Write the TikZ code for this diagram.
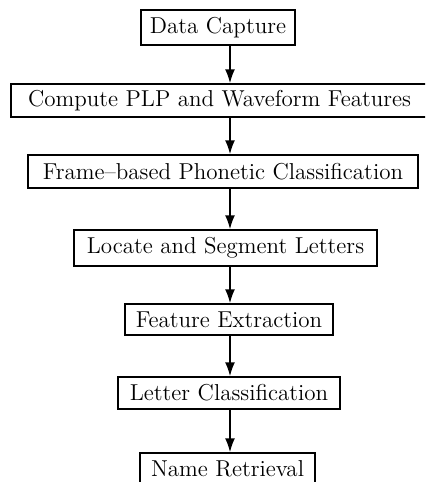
\documentclass[tikz,border=0pt]{standalone}
\usetikzlibrary{arrows.meta}
\begin{document}
\begin{tikzpicture}[x=0.5pt,y=-0.5pt,
  stage/.style={draw, line width=0.75pt, inner sep=0pt, anchor=center,
    font=\fontsize{11.5}{13}\selectfont},
  flow/.style={line width=0.8pt, -{Latex[length=7pt,width=5pt]}}]
\useasboundingbox (0,0) rectangle (425,482);
\clip (0,0) rectangle (425,482);
% processing stages, top to bottom
\node[stage, minimum width=77pt,    minimum height=17.5pt] (s1) at (218,27.5)  {Data Capture};
\node[stage, minimum width=208.5pt, minimum height=16.5pt] (s2) at (219.5,100.5) {Compute PLP and Waveform Features};
\node[stage, minimum width=195pt,   minimum height=16.5pt] (s3) at (223,171.5) {Frame--based Phonetic Classification};
\node[stage, minimum width=151.5pt, minimum height=18pt]   (s4) at (225.5,248) {Locate and Segment Letters};
\node[stage, minimum width=104pt,   minimum height=15.5pt] (s5) at (229,319.5) {Feature Extraction};
\node[stage, minimum width=111pt,   minimum height=16pt]   (s6) at (229,393)   {Letter Classification};
\node[stage, minimum width=87.5pt,  minimum height=16pt]   (s7) at (227.5,469) {Name Retrieval};
% connectors all run down one vertical line
\coordinate (ax) at (230,0);
\draw[flow] (s1.south -| ax) -- (s2.north -| ax);
\draw[flow] (s2.south -| ax) -- (s3.north -| ax);
\draw[flow] (s3.south -| ax) -- (s4.north -| ax);
\draw[flow] (s4.south -| ax) -- (s5.north -| ax);
\draw[flow] (s5.south -| ax) -- (s6.north -| ax);
\draw[flow] (s6.south -| ax) -- (s7.north -| ax);
\end{tikzpicture}
\end{document}
